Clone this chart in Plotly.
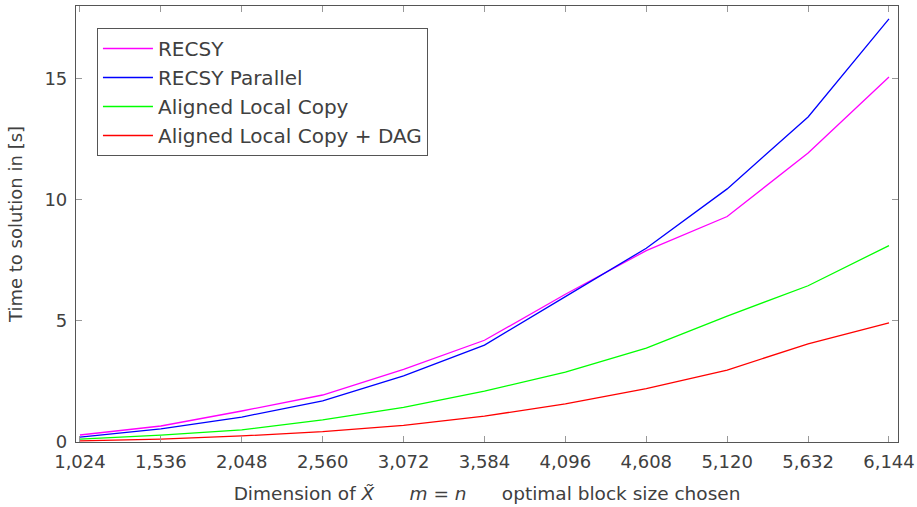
import plotly.graph_objects as go

# Matrix dimension (m = n)
dims = [1024, 1536, 2048, 2560, 3072, 3584, 4096, 4608, 5120, 5632, 6144]

# Time to solution in seconds
recsy = [0.29, 0.66, 1.28, 1.94, 3.0, 4.2, 6.1, 7.9, 9.31, 11.93, 15.07]
recsy_parallel = [0.2, 0.54, 1.03, 1.7, 2.73, 4.0, 6.0, 8.0, 10.45, 13.42, 17.47]
aligned_local = [0.12, 0.28, 0.5, 0.91, 1.43, 2.1, 2.88, 3.88, 5.2, 6.45, 8.11]
aligned_local_dag = [0.05, 0.12, 0.25, 0.43, 0.69, 1.07, 1.57, 2.2, 2.97, 4.05, 4.92]

series = [
    ("RECSY", recsy, "#ff00ff"),
    ("RECSY Parallel", recsy_parallel, "#0000ff"),
    ("Aligned Local Copy", aligned_local, "#00ff00"),
    ("Aligned Local Copy + DAG", aligned_local_dag, "#ff0000"),
]

FONT = "'DejaVu Sans', sans-serif"
TEXT = "#404040"

fig = go.Figure()
for name, ys, color in series:
    fig.add_trace(go.Scatter(x=dims, y=ys, name=name, mode="lines",
                             line=dict(color=color, width=1.3)))

axis_common = dict(
    showline=True, linecolor="#555555", linewidth=1.2, mirror="ticks",
    ticks="inside", ticklen=6, tickcolor="#999999", tickwidth=1,
    showgrid=False, zeroline=False, automargin=False,
    tickfont=dict(family=FONT, size=18, color=TEXT),
)

fig.update_layout(
    width=917, height=507,
    margin=dict(l=76, r=19, t=6, b=65),
    paper_bgcolor="white", plot_bgcolor="white",
    font=dict(family=FONT, size=18, color=TEXT),
    xaxis=dict(
        range=[999, 6201], tickvals=dims, tickformat=",d",
        ticklabelstandoff=3,
        title=dict(text="Dimension of <i>X̃</i>      <i>m</i> = <i>n</i>      optimal block size chosen",
                   font=dict(family=FONT, size=18.5, color=TEXT), standoff=16),
        **axis_common,
    ),
    yaxis=dict(
        range=[0, 18], tickvals=[0, 5, 10, 15],
        ticklabelstandoff=4,
        title=dict(text="Time to solution in [s]",
                   font=dict(family=FONT, size=18, color=TEXT), standoff=17),
        **axis_common,
    ),
    legend=dict(
        x=0.0255, y=0.9495, xanchor="left", yanchor="top",
        bordercolor="#555555", borderwidth=1, bgcolor="white",
        font=dict(family=FONT, size=20, color=TEXT),
        itemwidth=50, tracegroupgap=0,
    ),
    showlegend=True,
)

fig.write_html("out.html")
